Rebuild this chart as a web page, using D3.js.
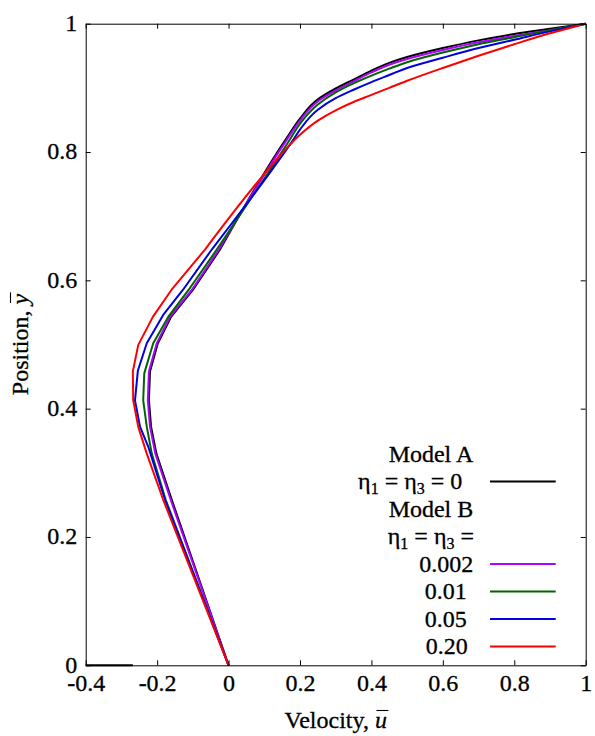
<!DOCTYPE html>
<html><head><meta charset="utf-8">
<script src="https://cdn.jsdelivr.net/npm/d3@7"></script>
<style>
body{margin:0;background:#fff}
svg text{font-family:"Liberation Serif","Times New Roman",Tinos,"DejaVu Serif",serif;stroke:#000;stroke-width:0.3px;}
</style>
</head><body>
<svg id="c" width="595" height="736"></svg>
<script>
// ---- data ----
const xTicks = [-0.4, -0.2, 0, 0.2, 0.4, 0.6, 0.8, 1];
const xTickLabels = ["-0.4", "-0.2", "0", "0.2", "0.4", "0.6", "0.8", "1"];
const yTicks = [0, 0.2, 0.4, 0.6, 0.8, 1];
const yTickLabels = ["0", "0.2", "0.4", "0.6", "0.8", "1"];

// Model A, eta1 = eta3 = 0
const modelA_u = [0, -0.159, -0.202, -0.217, -0.223, -0.220, -0.198, -0.161, -0.100, -0.024, 0.163, 0.200, 0.25, 0.30, 0.35, 0.40, 0.45, 0.50, 0.60, 0.70, 0.80, 0.90, 1];
const modelA_y = [0, 0.258, 0.330, 0.372, 0.413, 0.458, 0.502, 0.543, 0.585, 0.648, 0.822, 0.852, 0.882, 0.899, 0.913, 0.927, 0.939, 0.948, 0.962, 0.974, 0.984, 0.992, 1];
const modelA_baseU = [-0.4, -0.268];
const modelA_baseY = [0, 0];

// Model B, eta = 0.002
const b0002_u = [0, -0.162, -0.205, -0.220, -0.226, -0.223, -0.201, -0.164, -0.103, -0.027, 0.163, 0.200, 0.25, 0.30, 0.35, 0.40, 0.45, 0.50, 0.60, 0.70, 0.80, 0.90, 1];
const b0002_y = [0, 0.258, 0.330, 0.372, 0.413, 0.458, 0.502, 0.543, 0.585, 0.648, 0.819, 0.849, 0.879, 0.896, 0.910, 0.924, 0.936, 0.945, 0.959, 0.971, 0.981, 0.990, 1];

// Model B, eta = 0.01
const b001_u = [0, -0.176, -0.215, -0.229, -0.239, -0.236, -0.211, -0.169, -0.112, -0.033, 0.170, 0.200, 0.25, 0.30, 0.35, 0.40, 0.45, 0.50, 0.60, 0.70, 0.80, 0.90, 1];
const b001_y = [0, 0.258, 0.330, 0.372, 0.413, 0.455, 0.502, 0.543, 0.585, 0.648, 0.818, 0.844, 0.874, 0.893, 0.907, 0.919, 0.930, 0.940, 0.955, 0.968, 0.979, 0.990, 1];

// Model B, eta = 0.05
const b005_u = [0, -0.178, -0.225, -0.248, -0.262, -0.254, -0.229, -0.183, -0.128, -0.047, 0.125, 0.181, 0.200, 0.25, 0.30, 0.35, 0.40, 0.45, 0.50, 0.60, 0.70, 0.80, 0.90, 1];
const b005_y = [0, 0.258, 0.341, 0.372, 0.413, 0.459, 0.502, 0.546, 0.585, 0.648, 0.775, 0.819, 0.835, 0.866, 0.884, 0.897, 0.909, 0.920, 0.931, 0.947, 0.962, 0.975, 0.988, 1];

// Model B, eta = 0.20
const b020_u = [0, -0.183, -0.229, -0.253, -0.267, -0.268, -0.253, -0.212, -0.160, -0.066, 0.114, 0.163, 0.200, 0.25, 0.30, 0.35, 0.40, 0.45, 0.50, 0.60, 0.70, 0.80, 0.90, 1];
const b020_y = [0, 0.258, 0.330, 0.372, 0.413, 0.458, 0.499, 0.543, 0.585, 0.648, 0.775, 0.806, 0.827, 0.849, 0.865, 0.878, 0.889, 0.900, 0.911, 0.931, 0.950, 0.968, 0.985, 1];

const seriesNames = ["Model A", "0.002", "0.01", "0.05", "0.20"];
const seriesU = [modelA_u, b0002_u, b001_u, b005_u, b020_u];
const seriesY = [modelA_y, b0002_y, b001_y, b005_y, b020_y];
const seriesColors = ["#000000", "#b000ff", "#006400", "#0000e0", "#ff0000"];

// ---- layout ----
const FS = 24;
const svg = d3.select("#c");
const x = d3.scaleLinear().domain([-0.4, 1]).range([85.7, 585.7]);
const y = d3.scaleLinear().domain([0, 1]).range([665.3, 23.7]);

const straight = d3.line().x(d => x(d[0])).y(d => y(d[1]));
const smooth = d3.line().x(d => x(d[0])).y(d => y(d[1])).curve(d3.curveMonotoneY);
const zip = (u, v) => u.map((val, i) => [val, v[i]]);
const SPLIT = 0.648; // lower part drawn as straight segments, upper part smooth

// curves
const gCurves = svg.append("g").attr("fill", "none").attr("stroke-width", 2)
  .attr("stroke-linejoin", "round").attr("stroke-linecap", "butt");
gCurves.append("path")
  .attr("d", straight(zip(modelA_baseU, modelA_baseY)))
  .attr("stroke", "#000");
seriesU.forEach((u, i) => {
  const pts = zip(u, seriesY[i]);
  const lower = pts.filter(p => p[1] <= SPLIT);
  const upper = pts.filter(p => p[1] >= SPLIT);
  gCurves.append("path").attr("d", straight(lower) + smooth(upper).replace(/^M/, "L"))
    .attr("stroke", seriesColors[i]);
});

// axes
function styleAxis(g) {
  g.attr("font-family", null);
  g.selectAll("path.domain").attr("stroke", "#000").attr("stroke-width", 1);
  g.selectAll(".tick line").attr("stroke", "#000").attr("stroke-width", 1);
  g.selectAll(".tick text").attr("font-size", FS).attr("fill", "#000");
}
const gB = svg.append("g").attr("transform", `translate(0,${y(0)})`)
  .call(d3.axisBottom(x).tickValues(xTicks).tickFormat((d, i) => xTickLabels[i]).tickSize(-5).tickSizeOuter(0).tickPadding(8.5));
styleAxis(gB);
const gT = svg.append("g").attr("transform", `translate(0,${y(1)})`)
  .call(d3.axisTop(x).tickValues(xTicks).tickFormat("").tickSize(-5).tickSizeOuter(0));
styleAxis(gT);
const gL = svg.append("g").attr("transform", `translate(${x(-0.4)},0)`)
  .call(d3.axisLeft(y).tickValues(yTicks).tickFormat((d, i) => yTickLabels[i]).tickSize(-5).tickSizeOuter(0).tickPadding(8.5));
styleAxis(gL);
gL.selectAll(".tick text").attr("dy", "0.28em");
const gR = svg.append("g").attr("transform", `translate(${x(1)},0)`)
  .call(d3.axisRight(y).tickValues(yTicks).tickFormat("").tickSize(-5).tickSizeOuter(0));
styleAxis(gR);

// axis titles with overline on the variable
function overlined(g, tx, ty, plain, varName, anchor) {
  const t = g.append("text").attr("x", tx).attr("y", ty)
    .attr("font-size", FS).attr("text-anchor", anchor).attr("fill", "#000");
  t.append("tspan").text(plain);
  t.append("tspan").attr("font-style", "italic").text(varName);
  const n = plain.length;
  const s = t.node().getStartPositionOfChar(n);
  const e = t.node().getEndPositionOfChar(n);
  g.append("line").attr("x1", s.x + 1.5).attr("x2", e.x + 1.5)
    .attr("y1", ty - 17.5).attr("y2", ty - 17.5)
    .attr("stroke", "#000").attr("stroke-width", 1.1);
}
overlined(svg.append("g"), 335.7, 728, "Velocity, ", "u", "middle");
const gYt = svg.append("g").attr("transform", `translate(28,${(y(0) + y(1)) / 2}) rotate(-90)`);
overlined(gYt, 0, 0, "Position, ", "y", "middle");

// legend
const legendRows = [
  { parts: [["Model A"]], xEnd: 473.3 },
  { parts: [["η"], ["1", "sub"], [" = η"], ["3", "sub"], [" = 0"]], xEnd: 462.3, series: 0 },
  { parts: [["Model B"]], xEnd: 473.3 },
  { parts: [["η"], ["1", "sub"], [" = η"], ["3", "sub"], [" ="]], xEnd: 474 },
  { parts: [[seriesNames[1]]], xEnd: 473.3, series: 1 },
  { parts: [[seriesNames[2]]], xEnd: 466.7, series: 2 },
  { parts: [[seriesNames[3]]], xEnd: 466.7, series: 3 },
  { parts: [[seriesNames[4]]], xEnd: 467.7, series: 4 }
];
const gLeg = svg.append("g");
legendRows.forEach((r, i) => {
  const by = 461.7 + i * 27.5;
  const t = gLeg.append("text").attr("x", r.xEnd).attr("y", by).attr("text-anchor", "end")
    .attr("font-size", FS).attr("fill", "#000");
  r.parts.forEach((p, j) => {
    if (p[1] === "sub") {
      t.append("tspan").attr("font-size", 16).attr("dy", 5).text(p[0]);
    } else {
      const ts = t.append("tspan").text(p[0]);
      if (j > 0) ts.attr("dy", -5);
    }
  });
  if (r.series !== undefined) {
    gLeg.append("line").attr("x1", 490).attr("x2", 555.7)
      .attr("y1", by - 7.6).attr("y2", by - 7.6)
      .attr("stroke", seriesColors[r.series]).attr("stroke-width", 2);
  }
});
</script>
</body></html>
